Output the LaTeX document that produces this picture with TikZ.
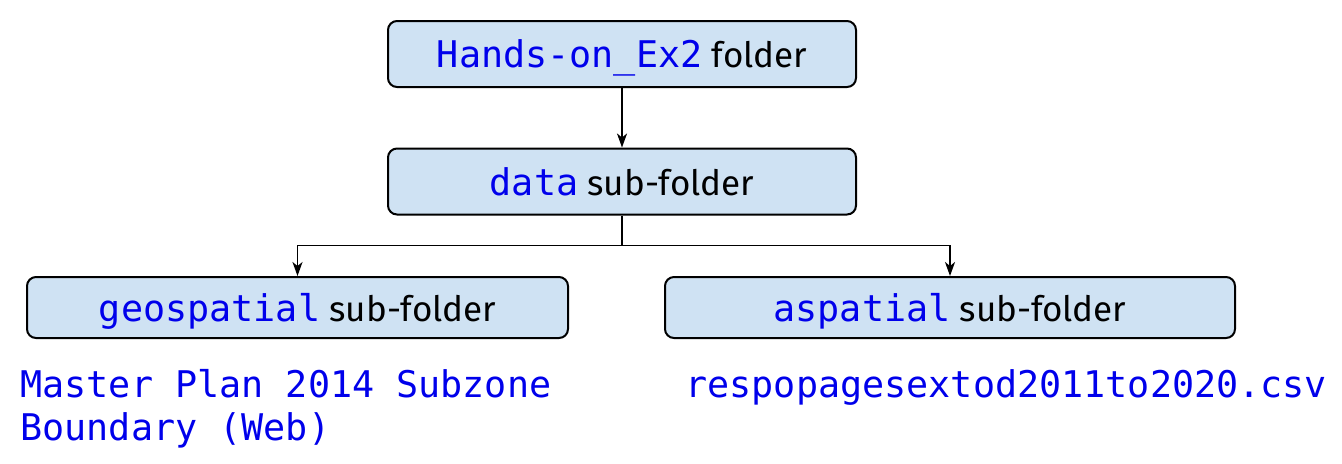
\documentclass[tikz,border=0pt]{standalone}
\usepackage{fontspec}
\setmainfont{Fira Sans}
\setmonofont[Scale=1.05]{DejaVu Sans Mono}
\usepackage{tikz}
\usetikzlibrary{arrows.meta}
\definecolor{boxblue}{RGB}{207,226,243}
\definecolor{codeblue}{RGB}{0,0,235}
\def\mysize{\fontsize{17.5}{21.5}\selectfont}
\newcommand{\code}[1]{\textcolor{codeblue}{\texttt{#1}}}
\tikzset{
  folderbox/.style={draw=black,line width=1pt,fill=boxblue,rounded corners=4.5pt,
    minimum height=33pt,inner sep=0pt,text depth=0pt,font=\mysize},
  filetext/.style={inner sep=0pt,align=left,text=codeblue,font=\mysize\ttfamily},
  link/.style={line width=0.9pt,-{Stealth[length=7pt,width=5pt,inset=2pt]}}
}

\begin{document}
\begin{tikzpicture}[x=0.5pt,y=-0.5pt]
% the frame of the picture
\useasboundingbox (0,0) rectangle (1342,463);
% the folder boxes
\node[folderbox,minimum width=234pt] (ex) at (622,54) {\code{Hands-on\_Ex2} folder};
\node[folderbox,minimum width=234pt] (data) at (622,181.5) {\code{data} sub-folder};
\node[folderbox,minimum width=270.5pt,minimum height=30.5pt] (geo) at (297.5,307.5) {\code{geospatial} sub-folder};
\node[folderbox,minimum width=285pt,minimum height=30.5pt] (asp) at (950,307.5) {\code{aspatial} sub-folder};
% the files under each box (base is the last line)
\node[filetext,anchor=base west] (geofile) at (20,440) {Master Plan 2014 Subzone\\Boundary (Web)};
\node[filetext,anchor=base west] (aspfile) at (685,397) {respopagesextod2011to2020.csv};
% the links
\draw[link] (ex) -- (data);
\draw[link] (data.south) -- ++(0,30) coordinate (split) -| (geo.north);
\draw[link] (split) -| (asp.north);
\end{tikzpicture}
\end{document}
